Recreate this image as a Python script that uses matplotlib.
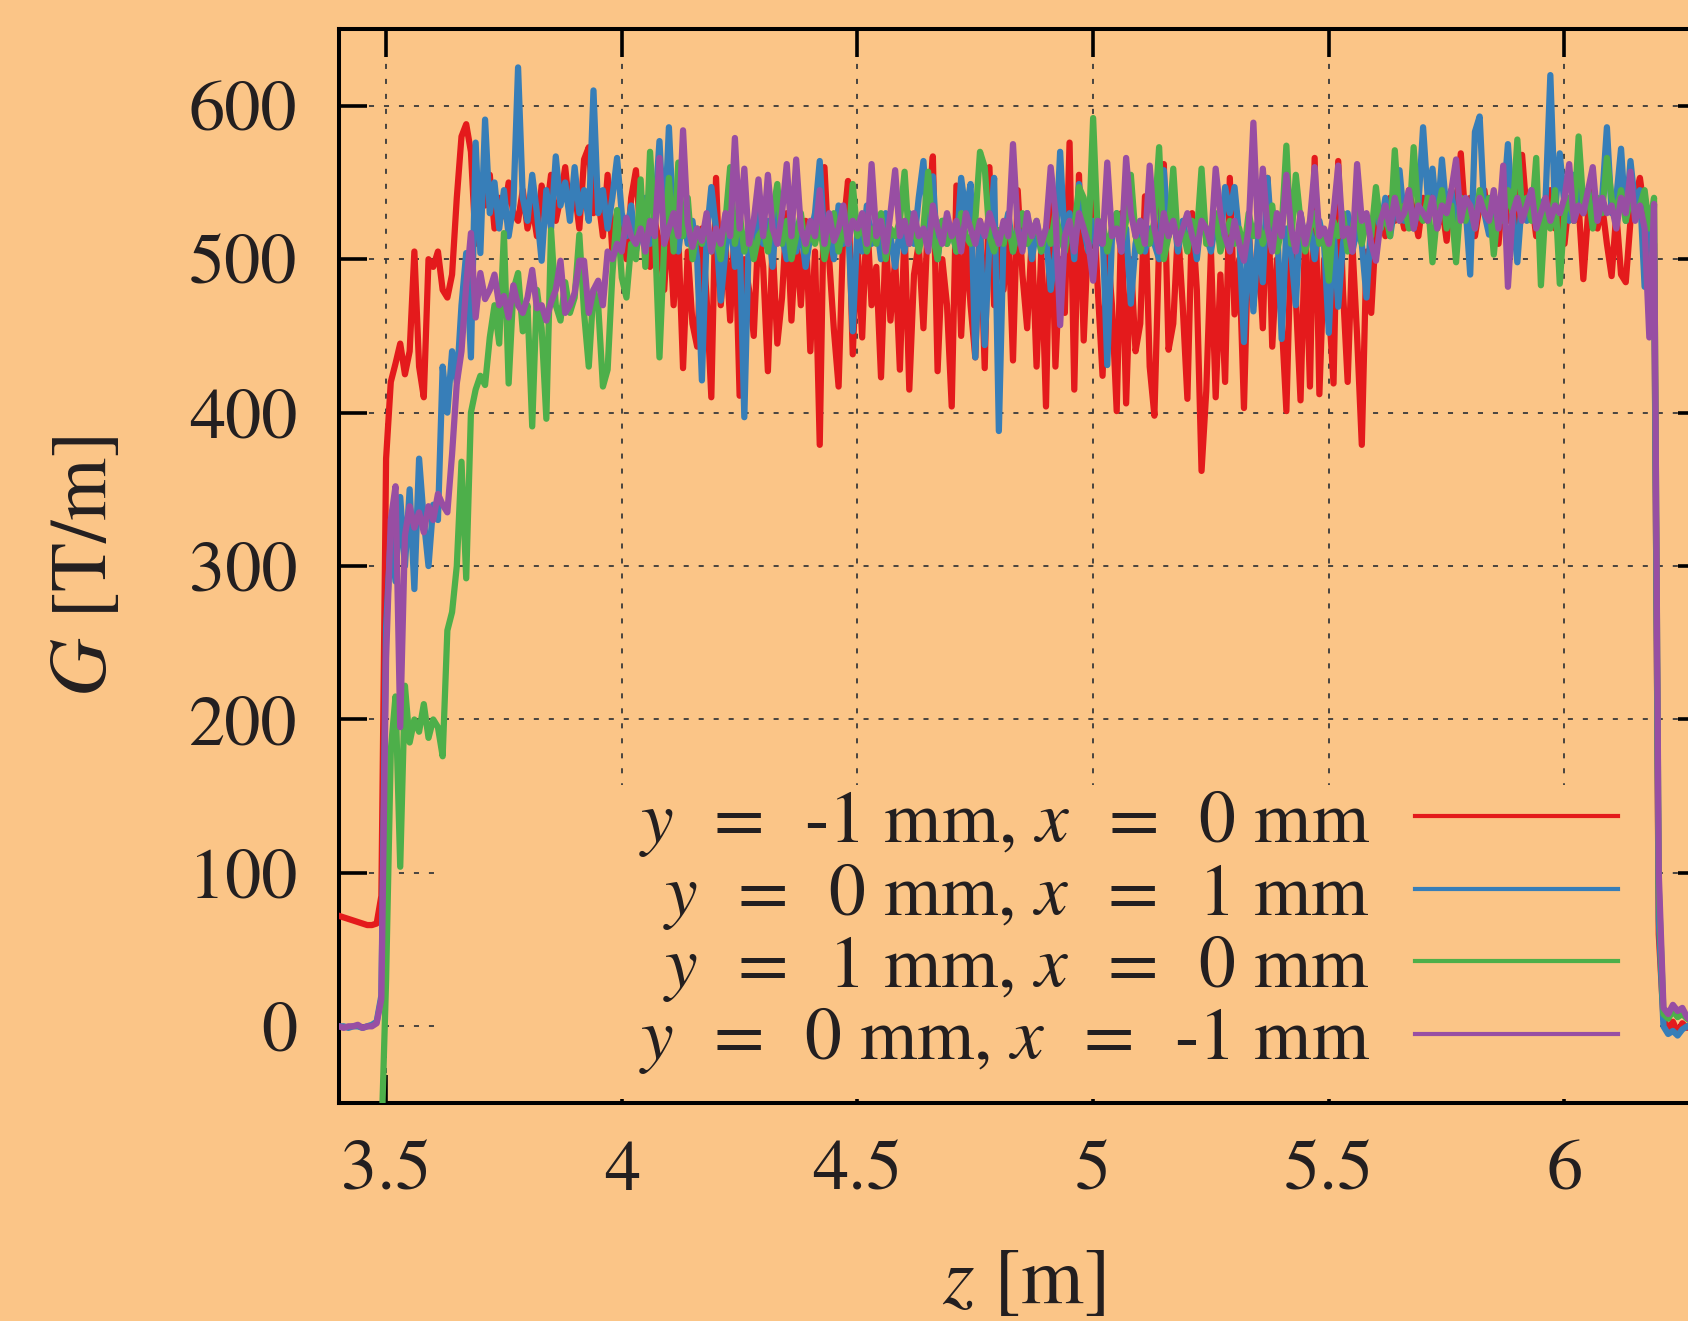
import matplotlib
matplotlib.use("Agg")
import matplotlib.pyplot as plt
import numpy as np
from matplotlib.patches import Rectangle

plt.rcParams["font.family"] = "STIXGeneral"
plt.rcParams["mathtext.fontset"] = "stix"

BG = "#FBC587"
INK = "#231F20"

# field sampled every 1 cm along the magnet, z = 3.40 ... 6.30 m
z = np.linspace(3.40, 6.30, 291)

# G [T/m], one row per 0.1 m
g_ym1 = [
    72, 71, 70, 69, 68, 67, 66, 66, 67, 85,
    370, 420, 432, 445, 425, 440, 505, 430, 410, 500,
    495, 505, 480, 475, 490, 540, 580, 588, 570, 510,
    545, 535, 555, 520, 540, 528, 550, 530, 525, 545,
    520, 535, 515, 548, 530, 555, 525, 540, 560, 530,
    545, 520, 565, 573, 530, 540, 515, 555, 505, 530,
    520, 500, 540, 558, 515, 530, 495, 525, 510, 480,
    530, 470, 515, 429, 505, 458, 443, 520, 475, 410,
    553, 470, 510, 460, 525, 411, 500, 480, 450, 520,
    495, 427, 510, 445, 475, 530, 460, 515, 470, 525,
    440, 505, 379, 560, 500, 454, 417, 520, 551, 438,
    510, 449, 530, 470, 495, 423, 515, 460, 500, 428,
    520, 415, 490, 510, 455, 530, 567, 427, 500, 470,
    404, 548, 450, 515, 470, 436, 525, 429, 560, 470,
    510, 480, 520, 434, 545, 490, 455, 515, 430, 505,
    404, 550, 430, 500, 465, 576, 415, 555, 447, 520,
    540, 480, 424, 510, 470, 401, 530, 406, 500, 440,
    458, 541, 430, 398, 510, 562, 441, 458, 520, 470,
    409, 530, 480, 362, 414, 505, 410, 490, 420, 553,
    464, 500, 403, 520, 470, 510, 455, 553, 443, 500,
    460, 401, 515, 475, 408, 520, 417, 566, 412, 500,
    470, 419, 564, 480, 420, 510, 450, 379, 505, 465,
    520, 530, 515, 540, 525, 535, 520, 545, 530, 515,
    540, 525, 548, 520, 535, 512, 545, 530, 569, 525,
    540, 515, 535, 545, 520, 530, 510, 545, 525, 535,
    520, 568, 530, 540, 515, 535, 525, 545, 520, 530,
    510, 540, 525, 535, 487, 530, 545, 520, 535, 510,
    489, 530, 490, 485, 525, 540, 553, 530, 520, 510,
    60, 5, -2, 3, -4, 2, -1, 0, 1, 0,
    0,
]

g_x1 = [
    0, 0, -1, 0, 0, -1, 0, 1, 3, 20,
    260, 320, 290, 345, 300, 350, 285, 370, 330, 300,
    340, 330, 430, 400, 440, 420, 470, 504, 436, 576,
    504, 591, 530, 550, 520, 545, 515, 535, 625, 540,
    525, 555, 530, 499, 545, 520, 567, 535, 550, 525,
    560, 530, 545, 525, 610, 530, 545, 520, 540, 566,
    530, 515, 535, 505, 520, 540, 510, 530, 577, 515,
    586, 520, 505, 530, 510, 525, 500, 421, 515, 547,
    520, 473, 505, 530, 495, 515, 397, 520, 505, 530,
    510, 525, 495, 540, 515, 500, 530, 505, 520, 495,
    515, 530, 564, 510, 520, 500, 535, 510, 525, 453,
    520, 505, 535, 510, 525, 500, 530, 515, 495, 520,
    505, 530, 510, 540, 564, 515, 554, 500, 525, 510,
    520, 505, 553, 530, 549, 436, 520, 444, 510, 553,
    388, 515, 530, 505, 520, 510, 530, 500, 520, 505,
    515, 480, 505, 570, 510, 530, 500, 549, 520, 505,
    525, 510, 520, 431, 515, 530, 505, 520, 471, 510,
    525, 505, 520, 510, 500, 558, 515, 530, 505, 525,
    510, 520, 500, 530, 515, 505, 525, 510, 547, 530,
    547, 515, 446, 520, 466, 515, 485, 553, 510, 525,
    448, 520, 505, 470, 530, 510, 520, 500, 525, 510,
    452, 520, 469, 510, 530, 505, 520, 510, 475, 525,
    530, 520, 540, 515, 535, 558, 525, 540, 520, 535,
    586, 540, 559, 525, 565, 530, 545, 520, 540, 535,
    490, 583, 593, 530, 516, 540, 525, 535, 575, 530,
    498, 540, 525, 545, 530, 535, 540, 620, 530, 569,
    535, 525, 555, 540, 530, 545, 525, 535, 540, 586,
    530, 540, 572, 525, 564, 535, 545, 482, 530, 500,
    70, 0, -5, -3, -6, -2, 0, 1, 0, 0,
    0,
]

g_y1 = [
    -70, -70, -71, -70, -71, -72, -71, -70, -72, -75,
    30, 180, 215, 104, 222, 185, 200, 192, 210, 188,
    200, 195, 176, 258, 270, 300, 368, 292, 400, 415,
    424, 418, 449, 470, 445, 517, 419, 480, 491, 453,
    470, 391, 480, 455, 396, 519, 470, 460, 485, 465,
    475, 516, 465, 430, 480, 470, 417, 428, 490, 532,
    488, 475, 510, 500, 552, 495, 570, 520, 436, 510,
    553, 505, 563, 515, 540, 500, 520, 510, 525, 505,
    515, 500, 525, 560, 510, 530, 505, 520, 500, 515,
    520, 505, 530, 549, 510, 525, 500, 515, 530, 505,
    520, 510, 525, 500, 515, 530, 505, 520, 510, 549,
    515, 525, 505, 520, 510, 530, 500, 520, 515, 525,
    557, 510, 525, 505, 520, 557, 515, 500, 525, 510,
    520, 505, 530, 515, 510, 525, 570, 560, 515, 505,
    519, 510, 525, 505, 520, 530, 510, 515, 525, 505,
    520, 510, 530, 515, 505, 525, 520, 547, 540, 510,
    592, 515, 525, 505, 520, 530, 510, 525, 555, 515,
    505, 520, 510, 525, 573, 500, 515, 559, 510, 520,
    505, 525, 515, 559, 510, 520, 530, 505, 515, 525,
    510, 520, 505, 530, 515, 525, 510, 520, 535, 505,
    520, 574, 510, 555, 525, 505, 520, 530, 510, 515,
    486, 525, 515, 530, 505, 520, 535, 510, 525, 515,
    547, 520, 530, 515, 571, 525, 535, 520, 573, 530,
    525, 540, 498, 530, 545, 520, 535, 498, 540, 525,
    535, 520, 545, 530, 540, 503, 535, 525, 545, 530,
    578, 530, 540, 525, 566, 483, 535, 520, 545, 484,
    530, 540, 525, 580, 535, 545, 520, 540, 530, 566,
    540, 530, 545, 525, 540, 530, 535, 545, 520, 540,
    90, 8, 5, 10, 6, 8, 5, 3, 2, 0,
    0,
]

g_xm1 = [
    0, -1, 0, 0, 1, -1, 0, 0, 2, 18,
    240, 330, 352, 195, 320, 339, 325, 335, 322, 339,
    330, 347, 340, 335, 373, 419, 440, 483, 517, 462,
    491, 474, 480, 490, 470, 476, 462, 483, 470, 465,
    475, 493, 468, 470, 460, 472, 480, 499, 465, 470,
    478, 499, 499, 465, 480, 486, 470, 505, 500, 510,
    505, 527, 515, 510, 520, 505, 525, 515, 566, 510,
    520, 530, 515, 584, 523, 508, 520, 512, 530, 505,
    520, 510, 530, 515, 579, 520, 559, 510, 525, 552,
    515, 555, 520, 510, 530, 562, 515, 565, 520, 510,
    525, 515, 545, 510, 530, 512, 520, 535, 510, 525,
    520, 530, 510, 562, 515, 525, 505, 530, 558, 515,
    525, 510, 530, 515, 520, 505, 535, 520, 510, 530,
    515, 525, 505, 530, 520, 510, 525, 515, 530, 520,
    510, 525, 515, 575, 520, 505, 530, 515, 525, 510,
    520, 560, 530, 457, 515, 525, 505, 530, 520, 510,
    486, 525, 510, 563, 515, 520, 505, 566, 530, 515,
    525, 510, 561, 520, 505, 530, 515, 525, 510, 520,
    530, 515, 505, 525, 520, 510, 559, 530, 515, 505,
    525, 510, 499, 520, 589, 515, 559, 520, 505, 530,
    515, 555, 520, 505, 530, 510, 525, 560, 515, 520,
    510, 530, 561, 515, 520, 505, 562, 525, 530, 510,
    499, 525, 535, 520, 540, 525, 530, 545, 520, 535,
    530, 525, 540, 520, 535, 530, 545, 565, 525, 540,
    535, 520, 540, 530, 525, 545, 520, 561, 482, 530,
    540, 525, 535, 545, 520, 530, 540, 525, 535, 530,
    540, 562, 525, 535, 530, 545, 560, 525, 540, 530,
    535, 520, 540, 530, 557, 525, 535, 520, 449, 536,
    100, 12, 8, 14, 10, 12, 6, 3, 1, 0,
    0,
]

series = [
    (g_ym1, "#E41A1C", r"$y\;\;=\;\;$-1 mm, $x\;\;=\;\;$0 mm"),
    (g_x1, "#377EB8", r"$y\;\;=\;\;$0 mm, $x\;\;=\;\;$1 mm"),
    (g_y1, "#4DAF4A", r"$y\;\;=\;\;$1 mm, $x\;\;=\;\;$0 mm"),
    (g_xm1, "#984EA3", r"$y\;\;=\;\;$0 mm, $x\;\;=\;\;$-1 mm"),
]

xticks = [3.5, 4, 4.5, 5, 5.5, 6]
xtick_labels = ["3.5", "4", "4.5", "5", "5.5", "6"]
yticks = [0, 100, 200, 300, 400, 500, 600]

fig = plt.figure(figsize=(16.88, 13.21), dpi=100, facecolor=BG)
# right spine sits just past the image edge, as in the original crop
ax = fig.add_axes([0.2008, 0.1650, 0.8098, 0.8130])
ax.set_facecolor(BG)

for vals, col, lab in series:
    ax.plot(z, vals, color=col, lw=4.5, label=lab, zorder=3)

ax.set_xlim(3.4, 6.3)
ax.set_ylim(-50, 650)
ax.set_xticks(xticks)
ax.set_xticklabels(xtick_labels)
ax.set_yticks(yticks)

ax.set_axisbelow(True)
ax.grid(True, color="#3a3a3a", linestyle=(0, (2.8, 5.5)), linewidth=1.3)

# opaque key area hides the grid behind the legend
ax.add_patch(Rectangle((0.0732, 0.004), 0.893, 0.292, transform=ax.transAxes,
                       facecolor=BG, edgecolor="none", zorder=1))

for s in ax.spines.values():
    s.set_linewidth(2.9)
    s.set_color("black")
ax.tick_params(which="both", direction="in", length=20, width=2.6,
               top=True, right=True, colors="black", labelcolor=INK,
               labelsize=52)
ax.tick_params(axis="x", pad=27)
ax.tick_params(axis="y", pad=30)

leg = ax.legend(loc="center right", bbox_to_anchor=(0.9356, 0.159),
                frameon=False, markerfirst=False, fontsize=53,
                handlelength=2.75, handletextpad=0.62, labelspacing=0.02,
                borderpad=0, borderaxespad=0)
for t in leg.get_texts():
    t.set_color(INK)
for h in leg.get_lines():
    h.set_linewidth(3.0)

fig.text(87 / 1688, 1 - 567 / 1321, r"$G$ [T/m]", rotation=90,
         ha="center", va="center", fontsize=58, color=INK)
fig.text(1023 / 1688, 1 - 1303 / 1321, r"$z$ [m]", ha="center",
         va="baseline", fontsize=58, color=INK)

fig.savefig("out.png", dpi=100, facecolor=BG)
plt.close(fig)
